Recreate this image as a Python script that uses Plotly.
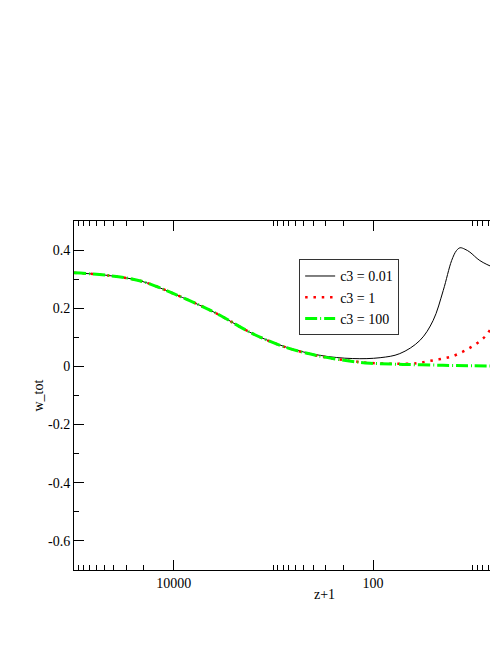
import math
import plotly.graph_objects as go

# ---- data ----
z_c001 = [1e5, 4.6e4, 2.1e4, 1e4, 4.6e3, 3.4e3, 1.6e3, 740, 340, 160, 85, 54, 34, 25, 19.8, 16.3, 14.6, 13.4, 12.0, 10.7, 8.5, 6.2, 5.5]
w_c001 = [0.322, 0.313, 0.293, 0.250, 0.198, 0.175, 0.112, 0.066, 0.038, 0.027, 0.030, 0.044, 0.089, 0.158, 0.261, 0.364, 0.398, 0.408, 0.403, 0.393, 0.364, 0.341, 0.338]

z_c1 = [1e5, 4.6e4, 2.1e4, 1e4, 4.6e3, 3.4e3, 1.6e3, 740, 340, 160, 107, 60, 36.5, 29, 23.9, 19.8, 16.3, 13.4, 11.2, 9.4, 7.9, 6.95, 6.2, 5.5]
w_c1 = [0.322, 0.313, 0.293, 0.250, 0.198, 0.175, 0.112, 0.065, 0.035, 0.018, 0.012, 0.009, 0.011, 0.017, 0.022, 0.027, 0.034, 0.046, 0.060, 0.076, 0.096, 0.118, 0.144, 0.18]

z_c100 = [1e5, 4.6e4, 2.1e4, 1e4, 4.6e3, 3.4e3, 1.6e3, 740, 340, 160, 107, 50, 20, 10, 5.5]
w_c100 = [0.322, 0.313, 0.293, 0.250, 0.198, 0.175, 0.112, 0.065, 0.035, 0.017, 0.011, 0.007, 0.004, 0.002, 0.001]

series_names = ["c3 = 0.01", "c3 = 1", "c3 = 100"]

x_major_vals = [1e4, 100]
x_major_text = ["10000", "100"]
x_minor_vals = [2e4, 3e4, 4e4, 5e4, 6e4, 7e4, 8e4, 9e4, 1e5,
                200, 300, 400, 500, 600, 700, 800, 900, 1000,
                2, 3, 4, 5, 6, 7, 8, 9, 10]

y_major_vals = [0.4, 0.2, 0, -0.2, -0.4, -0.6]
y_major_text = ["0.4", "0.2", "0", "-0.2", "-0.4", "-0.6"]
y_minor_vals = [0.3, 0.1, -0.1, -0.3, -0.5]

x_left, x_right = 1e5, 5.6
y_range = [-0.7, 0.5]

FONT = "Liberation Serif"

fig = go.Figure()
fig.add_trace(go.Scatter(x=z_c001, y=w_c001, mode="lines", name=series_names[0],
                         line=dict(color="black", width=1, shape="spline", smoothing=1)))
fig.add_trace(go.Scatter(x=z_c1, y=w_c1, mode="lines", name=series_names[1],
                         line=dict(color="#ff0000", width=2.5, dash="2.5px,5.8px", shape="spline", smoothing=1)))
fig.add_trace(go.Scatter(x=z_c100, y=w_c100, mode="lines", name=series_names[2],
                         line=dict(color="#00ff00", width=3, dash="12px,3px,1px,3px", shape="spline", smoothing=1)))

# page body has an 8px margin, so the figure is sized to fit the 498x645 window
fig.update_layout(
    width=482, height=605,
    margin=dict(l=66, r=0, t=213, b=43, autoexpand=False),
    paper_bgcolor="white", plot_bgcolor="white",
    font=dict(family=FONT, size=14, color="black"),
    showlegend=True,
    legend=dict(x=0.531 * 424 / 416, y=0.89, xanchor="left", yanchor="top",
                bgcolor="white", bordercolor="#333333", borderwidth=1,
                font=dict(family=FONT, size=14), tracegroupgap=0,
                itemwidth=30),
    annotations=[
        dict(text="z+1", xref="paper", yref="paper", x=250 / 416, y=-0.0716,
             xanchor="center", yanchor="middle", showarrow=False,
             font=dict(family=FONT, size=14)),
        dict(text="w_tot", xref="paper", yref="paper", x=-36 / 416, y=0.5,
             xanchor="center", yanchor="middle", textangle=-90, showarrow=False,
             font=dict(family=FONT, size=14)),
    ],
)

# visible plot width is 416 px (decade = 99.7 px), so the right end is 10**(5 - 416/99.7)
x_right = 10 ** (5 - 416 / 99.7)

fig.update_xaxes(
    type="log", range=[math.log10(x_left), math.log10(x_right)],
    showgrid=False, zeroline=False,
    showline=True, linecolor="black", linewidth=1, mirror="ticks",
    ticks="inside", ticklen=10, tickwidth=1, tickcolor="black",
    tickmode="array", tickvals=x_major_vals, ticktext=x_major_text,
    tickfont=dict(family=FONT, size=14),
    minor=dict(tickmode="array", tickvals=x_minor_vals, ticks="inside",
               ticklen=5, tickwidth=1, tickcolor="black", showgrid=False),
)
fig.update_yaxes(
    range=y_range,
    showgrid=False, zeroline=False,
    showline=True, linecolor="black", linewidth=1, mirror=False,
    ticks="inside", ticklen=10, tickwidth=1, tickcolor="black",
    tickmode="array", tickvals=y_major_vals, ticktext=y_major_text,
    tickfont=dict(family=FONT, size=14),
    minor=dict(tickmode="array", tickvals=y_minor_vals, ticks="inside",
               ticklen=5, tickwidth=1, tickcolor="black", showgrid=False),
)

fig.write_html("out.html")
